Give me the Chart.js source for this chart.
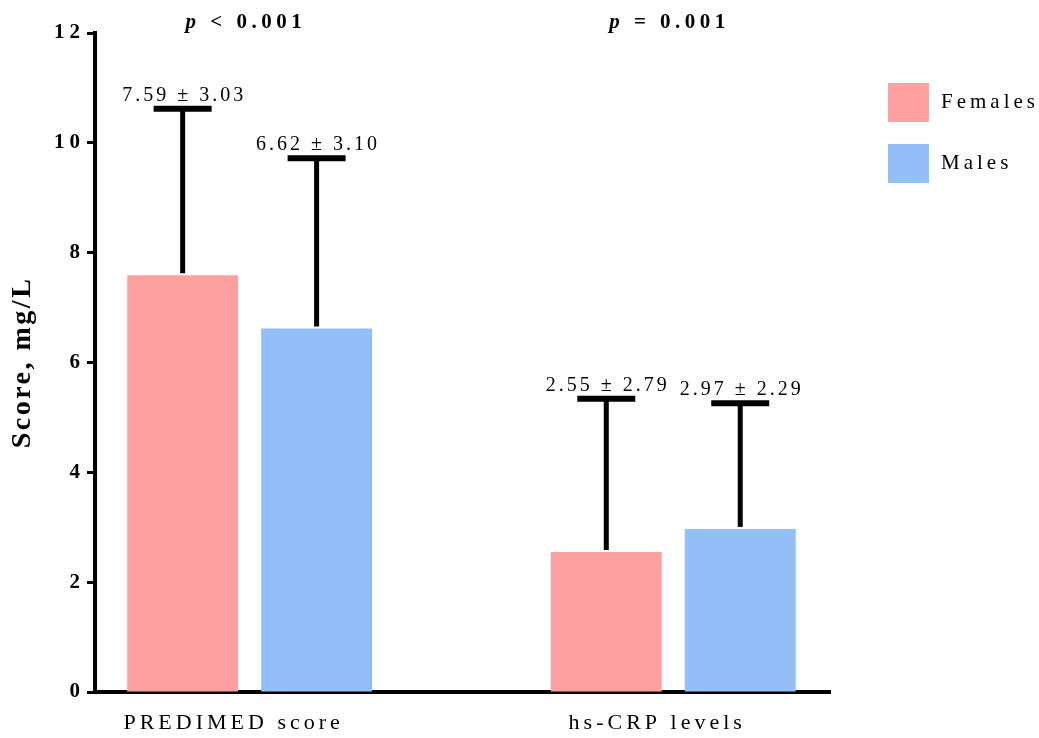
<!DOCTYPE html>
<html><head><meta charset="utf-8">
<script src="https://cdn.jsdelivr.net/npm/chart.js@4.4.1/dist/chart.umd.min.js"></script>
<style>html,body{margin:0;padding:0;background:#fff}#wrap{width:1039px;height:738px;position:relative}</style>
</head><body><div id="wrap"><canvas id="c"></canvas></div>
<script>
const categories = ['PREDIMED score', 'hs-CRP levels'];
const seriesNames = ['Females', 'Males'];
const femaleMeans = [7.59, 2.55];
const femaleSDs = [3.03, 2.79];
const maleMeans = [6.62, 2.97];
const maleSDs = [3.10, 2.29];
const pValues = ['< 0.001', '= 0.001'];
const yTicks = [0, 2, 4, 6, 8, 10, 12];
const colors = ['rgb(255,160,160)', 'rgb(147,191,248)'];
const SERIF = '"Liberation Serif", "Times New Roman", serif';

const positions = categories.map((_, i) => i + 1);
const means = [femaleMeans, maleMeans];
const sds = [femaleSDs, maleSDs];

function wrapSpacing(obj, name, spacing) {
  const key = '_ls_' + name;
  if (obj[key]) return;
  const orig = obj[name];
  obj[name] = function (...a) {
    const ctx = this.ctx;
    const prev = ctx.letterSpacing;
    ctx.letterSpacing = spacing;
    try { return orig.apply(this, a); } finally { ctx.letterSpacing = prev; }
  };
  obj[key] = true;
}

const spacingPlugin = {
  id: 'spacing',
  beforeDraw(chart) {
    wrapSpacing(chart.scales.y, 'drawLabels', '5px');
    wrapSpacing(chart.scales.y, 'drawTitle', '2.5px');
    wrapSpacing(chart.scales.x, 'drawLabels', '4px');
  }
};

const errorBarPlugin = {
  id: 'errorBars',
  afterDatasetsDraw(chart) {
    const ctx = chart.ctx, y = chart.scales.y;
    chart.data.datasets.forEach((ds, di) => {
      const meta = chart.getDatasetMeta(di);
      meta.data.forEach((bar, i) => {
        const mean = ds.data[i], sd = sds[di][i];
        const yTop = y.getPixelForValue(mean + sd);
        ctx.save();
        ctx.strokeStyle = '#000';
        ctx.lineCap = 'butt';
        ctx.lineWidth = 5;
        ctx.beginPath(); ctx.moveTo(bar.x, bar.y - 2); ctx.lineTo(bar.x, yTop); ctx.stroke();
        ctx.lineWidth = 6;
        ctx.beginPath(); ctx.moveTo(bar.x - 29, yTop); ctx.lineTo(bar.x + 29, yTop); ctx.stroke();
        ctx.font = '20px ' + SERIF;
        ctx.letterSpacing = '3px';
        ctx.fillStyle = '#000';
        ctx.textAlign = 'center';
        ctx.textBaseline = 'alphabetic';
        ctx.fillText(mean.toFixed(2) + ' \u00B1 ' + sd.toFixed(2), bar.x + 1.5, yTop - 8);
        ctx.restore();
      });
    });
  }
};

const pValuePlugin = {
  id: 'pValues',
  afterDraw(chart) {
    const ctx = chart.ctx, x = chart.scales.x;
    pValues.forEach((pv, i) => {
      const cx = x.getPixelForValue(positions[i]) - 6;
      ctx.save();
      ctx.letterSpacing = '4.5px';
      ctx.fillStyle = '#000';
      ctx.textAlign = 'left';
      ctx.textBaseline = 'alphabetic';
      ctx.font = 'italic bold 21px ' + SERIF;
      const w1 = ctx.measureText('p').width;
      ctx.font = 'bold 21px ' + SERIF;
      const rest = ' ' + pv;
      const w2 = ctx.measureText(rest).width;
      const start = cx - (w1 + w2 - 4.5) / 2;
      ctx.font = 'italic bold 21px ' + SERIF;
      ctx.fillText('p', start, 28);
      ctx.font = 'bold 21px ' + SERIF;
      ctx.fillText(rest, start + w1, 28);
      ctx.restore();
    });
  }
};

const legendPlugin = {
  id: 'customLegend',
  afterDraw(chart) {
    const ctx = chart.ctx, area = chart.chartArea;
    chart.data.datasets.forEach((ds, i) => {
      const bx = area.right + 58, by = area.top + 50 + i * 61;
      ctx.save();
      ctx.fillStyle = ds.backgroundColor;
      ctx.fillRect(bx, by, 41, 39);
      ctx.fillStyle = '#000';
      ctx.font = '21px ' + SERIF;
      ctx.letterSpacing = '4px';
      ctx.textAlign = 'left';
      ctx.textBaseline = 'middle';
      ctx.fillText(ds.label, bx + 53, by + 19.5);
      ctx.restore();
    });
  }
};

new Chart(document.getElementById('c'), {
  type: 'bar',
  data: {
    labels: positions,
    datasets: seriesNames.map((n, k) => ({
      label: n,
      data: means[k],
      backgroundColor: colors[k],
      borderWidth: 0,
      categoryPercentage: 0.6324,
      barPercentage: 0.828
    }))
  },
  options: {
    responsive: true,
    maintainAspectRatio: false,
    animation: false,
    devicePixelRatio: 1,
    layout: { padding: { left: 0, right: 209, top: 33, bottom: 0 } },
    plugins: { legend: { display: false }, tooltip: { enabled: false } },
    scales: {
      x: {
        type: 'linear',
        min: 0.635,
        max: 2.37,
        offset: false,
        afterBuildTicks: s => { s.ticks = positions.map(v => ({ value: v })); },
        afterFit: s => { s.height = 46; },
        grid: { display: true, offset: false, drawOnChartArea: false, drawTicks: false },
        border: { display: true, color: '#000', width: 4 },
        ticks: {
          padding: 18,
          labelOffset: -16,
          maxRotation: 0,
          minRotation: 0,
          autoSkip: false,
          color: '#000',
          font: { family: SERIF, size: 22 },
          callback: (v, idx) => categories[idx]
        }
      },
      y: {
        min: 0,
        max: 12,
        afterBuildTicks: s => { s.ticks = yTicks.map(v => ({ value: v })); },
        afterFit: s => { s.width = 95; },
        grid: { display: true, drawOnChartArea: false, drawTicks: true, tickLength: 8, tickWidth: 3, tickColor: '#000', color: '#000' },
        border: { color: '#000', width: 4 },
        ticks: { padding: 2, color: '#000', font: { family: SERIF, size: 21, weight: 'bold' } },
        title: {
          display: true,
          text: 'Score, mg/L',
          color: '#000',
          font: { family: SERIF, size: 28, weight: 'bold' },
          padding: { top: 6, bottom: 0 }
        }
      }
    }
  },
  plugins: [spacingPlugin, errorBarPlugin, pValuePlugin, legendPlugin]
});
</script>
</body></html>
